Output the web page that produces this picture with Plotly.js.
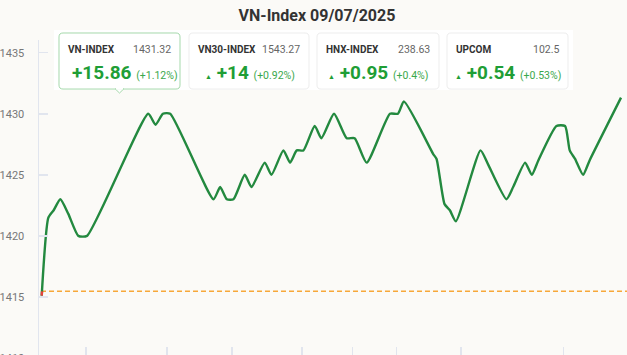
<!DOCTYPE html>
<html>
<head>
<meta charset="utf-8">
<script src="https://cdn.plot.ly/plotly-3.0.1.min.js"></script>
<style>
html,body{margin:0;padding:0;background:#fbfaf7;overflow:hidden;}
#wrap{width:627px;height:355px;overflow:hidden;position:relative;}
#chart{width:627px;height:400px;}
</style>
</head>
<body>
<div id="wrap"><div id="chart"></div></div>
<script>
// ---- data ----
const xIdx = [0,1,1.8,2.8,4,5.5,6.8,16,17.1,18.2,19.3,25.8,26.8,27.8,28.8,30.5,31.5,33.5,34.5,36.3,37.3,38.3,39.3,41,42,43.9,45.8,47,48.8,52.3,53.5,54.4,58.8,59.3,60.5,61.3,62.2,65.9,67,69.8,70.8,72.6,73.6,74.6,77.3,78.6,79.3,80.1,81.3,82.3,87];
const values = [1415.1,1421.5,1422.1,1423,1421.8,1420,1420,1430,1429.1,1430,1430,1423,1424,1423,1423,1425,1424,1426,1425,1427,1426,1427,1427,1429,1428,1430,1428,1428,1426,1430,1430,1431,1426.7,1426.3,1422.6,1422.1,1421.2,1427,1425.9,1423,1424,1426,1425,1426.2,1429,1429,1427,1426.3,1425,1426.2,1431.32];
const refValue = 1415.46;
const xTickVals = [6.65,18.8,28.6,39.1,46.7,53.3,63,78.4];
const yTickVals = [1410,1415,1420,1425,1430,1435];

const cardNames = ["VN-INDEX","VN30-INDEX","HNX-INDEX","UPCOM"];
const cardValues = ["1431.32","1543.27","238.63","102.5"];
const cardChanges = ["+15.86","+14","+0.95","+0.54"];
const cardPercents = ["(+1.12%)","(+0.92%)","(+0.4%)","(+0.53%)"];

// ---- layout geometry ----
const W=627,H=400,L=39,R=0,T=40,PB=357.7,B=H-PB;
const pw=W-L-R, ph=PB-T;
const px=v=>(v-L)/pw, py=v=>(PB-v)/ph;
function rrect(x0,y0,x1,y1,r){
  const p=(a,b)=>px(a).toFixed(5)+','+py(b).toFixed(5);
  return 'M'+p(x0+r,y0)+' L'+p(x1-r,y0)+' Q'+p(x1,y0)+' '+p(x1,y0+r)+
    ' L'+p(x1,y1-r)+' Q'+p(x1,y1)+' '+p(x1-r,y1)+' L'+p(x0+r,y1)+
    ' Q'+p(x0,y1)+' '+p(x0,y1-r)+' L'+p(x0,y0+r)+' Q'+p(x0,y0)+' '+p(x0+r,y0)+' Z';
}
const cardBoxes=[[59,33,180,89],[189,33,309,89],[317,33,439,89],[447,33,568,89]];
const changeCenters=[125,250,378,508];

const green='#1f9e36', greenLight='#3aa84c';

const shapes=[
  {type:'line',xref:'paper',yref:'y',x0:px(41),x1:1,y0:refValue,y1:refValue,
   line:{color:'#f7a83a',width:1.5,dash:'5px,3px'},layer:'below'},
  {type:'rect',xref:'paper',yref:'paper',x0:px(54),x1:px(573),y0:py(90),y1:py(30),
   fillcolor:'#ffffff',line:{width:0},layer:'above'}
];
const annotations=[];
cardBoxes.forEach((b,i)=>{
  shapes.push({type:'path',xref:'paper',yref:'paper',path:rrect(b[0],b[1],b[2],b[3],4),
    fillcolor:'#ffffff',line:{color:i===0?'#a5d9ab':'#ededed',width:1},layer:'above'});
  annotations.push({xref:'paper',yref:'paper',x:px(b[0]+7),y:py(49),xanchor:'left',yanchor:'middle',
    text:'<b>'+cardNames[i]+'</b>',showarrow:false,font:{family:'Roboto, Arial',size:10,color:'#333'}});
  annotations.push({xref:'paper',yref:'paper',x:px(b[2]-7),y:py(49),xanchor:'right',yanchor:'middle',
    text:cardValues[i],showarrow:false,font:{family:'Roboto, Arial',size:10.5,color:'#666'}});
  const tri = i===0 ? '' : '<span style="font-size:7px">▲</span> ';
  annotations.push({xref:'paper',yref:'paper',x:px(changeCenters[i]),y:py(72),xanchor:'center',yanchor:'middle',
    text:tri+'<b>'+cardChanges[i]+'</b> <span style="font-size:10.5px;color:'+greenLight+'">'+cardPercents[i]+'</span>',
    showarrow:false,font:{family:'Roboto, Arial',size:19,color:green}});
});
// pointer under selected card
shapes.push({type:'path',xref:'paper',yref:'paper',
  path:'M'+px(115)+','+py(88.6)+' L'+px(119.5)+','+py(93)+' L'+px(124)+','+py(88.6)+' Z',
  fillcolor:'#ffffff',line:{color:'#a5d9ab',width:1},layer:'above'});
shapes.push({type:'line',xref:'paper',yref:'paper',x0:px(115.8),x1:px(123.2),y0:py(88.6),y1:py(88.6),
  line:{color:'#ffffff',width:1.5},layer:'above'});

// red part below reference
const t=(refValue-values[0])/(values[1]-values[0]);
const xc=xIdx[0]+t*(xIdx[1]-xIdx[0]);

const traces=[
  {x:xIdx,y:values,type:'scatter',mode:'lines',line:{color:'#23893f',width:2.4,shape:'spline',smoothing:0.55},hoverinfo:'skip'},
  {x:[xIdx[0],xc],y:[values[0],refValue],type:'scatter',mode:'lines',line:{color:'#e8413c',width:2.4},hoverinfo:'skip'}
];

const layout={
  width:W,height:H,
  margin:{l:L,r:R,t:T,b:B},
  paper_bgcolor:'#fbfaf7',plot_bgcolor:'#fbfaf7',
  showlegend:false,
  title:{text:'<b>VN-Index 09/07/2025</b>',xref:'container',yref:'container',x:317/W,y:1-15/H,
    xanchor:'center',yanchor:'middle',font:{family:'Roboto, Arial',size:16,color:'#333'}},
  xaxis:{range:[-0.405,87.9],tickvals:xTickVals,showticklabels:false,ticks:'inside',ticklen:11,
    tickcolor:'#e1e5ee',tickwidth:1.5,showgrid:false,zeroline:false,showline:true,linecolor:'#e1e5ee',linewidth:1.5,
    fixedrange:true},
  yaxis:{range:[1410,1436.04],tickvals:yTickVals,ticks:'inside',ticklen:9,tickcolor:'#e1e5ee',tickwidth:1.5,
    showgrid:false,zeroline:false,showline:true,linecolor:'#e1e5ee',linewidth:1.5,ticklabelstandoff:11,
    tickfont:{family:'Roboto, Arial',size:11,color:'#777'},fixedrange:true},
  shapes:shapes,annotations:annotations
};
Plotly.newPlot('chart',traces,layout,{displayModeBar:false,staticPlot:true});
</script>
</body>
</html>
